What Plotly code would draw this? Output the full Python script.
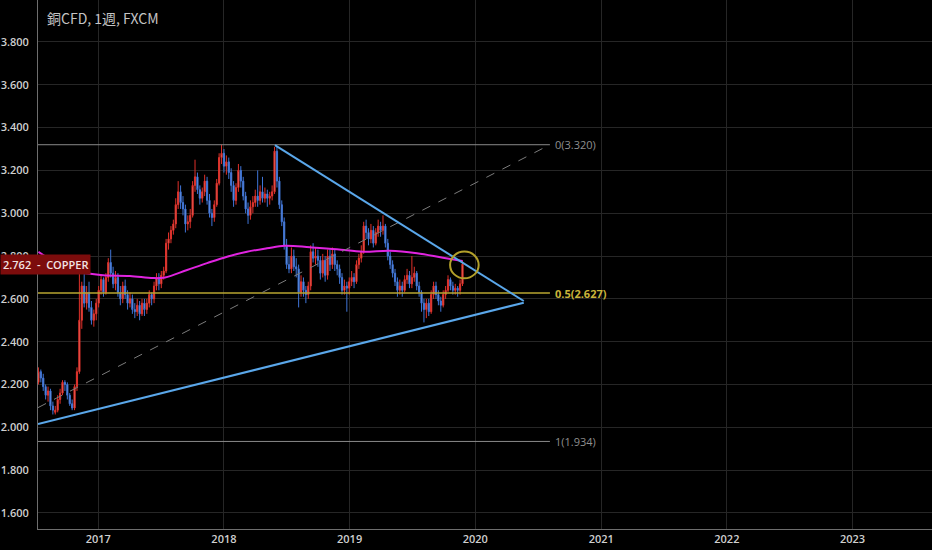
import pandas as pd
import plotly.graph_objects as go

# weekly candles, copper CFD (FXCM)
start_week = "2016-07-11"
opens = [2.21, 2.26, 2.23, 2.19, 2.15, 2.17, 2.10, 2.07, 2.08, 2.13, 2.16, 2.21, 2.20, 2.15, 2.11, 2.09, 2.19, 2.26, 2.50, 2.66,
         2.58, 2.63, 2.56, 2.50, 2.53, 2.58, 2.64, 2.69, 2.63, 2.70, 2.77, 2.72, 2.67, 2.70, 2.63, 2.60, 2.66, 2.62, 2.58, 2.60,
         2.55, 2.54, 2.57, 2.53, 2.58, 2.55, 2.58, 2.62, 2.60, 2.66, 2.70, 2.67, 2.71, 2.73, 2.86, 2.88, 2.92, 2.95, 3.04, 3.10,
         3.05, 3.02, 2.95, 2.96, 2.99, 3.13, 3.17, 3.11, 3.07, 3.10, 3.15, 3.06, 3.00, 2.98, 3.04, 3.14, 3.26, 3.28, 3.22, 3.24,
         3.19, 3.13, 3.06, 3.12, 3.20, 3.15, 3.08, 3.02, 2.99, 3.03, 3.05, 3.08, 3.06, 3.10, 3.07, 3.09, 3.07, 3.08, 3.10, 3.29,
         3.15, 3.04, 2.96, 2.85, 2.76, 2.74, 2.80, 2.75, 2.74, 2.63, 2.68, 2.64, 2.62, 2.66, 2.82, 2.79, 2.80, 2.78, 2.72, 2.78,
         2.71, 2.80, 2.76, 2.81, 2.76, 2.74, 2.70, 2.64, 2.66, 2.65, 2.68, 2.70, 2.68, 2.76, 2.79, 2.82, 2.94, 2.91, 2.88, 2.92,
         2.86, 2.91, 2.94, 2.92, 2.94, 2.86, 2.80, 2.76, 2.72, 2.68, 2.64, 2.66, 2.64, 2.69, 2.71, 2.67, 2.70, 2.72, 2.66, 2.63,
         2.58, 2.55, 2.58, 2.54, 2.62, 2.66, 2.62, 2.59, 2.57, 2.62, 2.64, 2.69, 2.66, 2.64, 2.65, 2.64, 2.67]
highs = [2.28, 2.27, 2.25, 2.20, 2.19, 2.18, 2.12, 2.10, 2.15, 2.18, 2.22, 2.22, 2.21, 2.16, 2.13, 2.20, 2.28, 2.76, 2.68, 2.72,
         2.66, 2.68, 2.59, 2.55, 2.60, 2.66, 2.71, 2.70, 2.72, 2.79, 2.83, 2.75, 2.73, 2.72, 2.66, 2.68, 2.69, 2.64, 2.63, 2.62,
         2.58, 2.60, 2.59, 2.60, 2.60, 2.60, 2.64, 2.63, 2.68, 2.72, 2.72, 2.73, 2.75, 2.88, 2.91, 2.94, 2.97, 3.07, 3.15, 3.13,
         3.08, 3.04, 2.99, 3.02, 3.15, 3.25, 3.19, 3.13, 3.12, 3.18, 3.17, 3.09, 3.02, 3.06, 3.16, 3.28, 3.32, 3.30, 3.27, 3.26,
         3.21, 3.15, 3.14, 3.23, 3.22, 3.17, 3.10, 3.05, 3.06, 3.08, 3.11, 3.20, 3.13, 3.17, 3.12, 3.11, 3.10, 3.13, 3.31, 3.31,
         3.17, 3.06, 2.98, 2.88, 2.80, 2.84, 2.83, 2.79, 2.76, 2.71, 2.70, 2.66, 2.68, 2.85, 2.86, 2.84, 2.83, 2.80, 2.81, 2.80,
         2.83, 2.83, 2.84, 2.83, 2.78, 2.76, 2.72, 2.69, 2.68, 2.70, 2.73, 2.72, 2.78, 2.81, 2.85, 2.96, 2.97, 2.93, 2.95, 2.94,
         2.93, 2.97, 2.96, 2.99, 2.95, 2.88, 2.82, 2.78, 2.74, 2.70, 2.69, 2.68, 2.71, 2.74, 2.73, 2.80, 2.75, 2.73, 2.68, 2.64,
         2.60, 2.60, 2.60, 2.64, 2.68, 2.68, 2.64, 2.61, 2.64, 2.66, 2.71, 2.70, 2.68, 2.67, 2.66, 2.69, 2.78]
lows = [2.20, 2.21, 2.17, 2.13, 2.12, 2.08, 2.06, 2.06, 2.07, 2.11, 2.15, 2.17, 2.13, 2.10, 2.08, 2.08, 2.17, 2.25, 2.46, 2.56,
        2.55, 2.54, 2.48, 2.47, 2.50, 2.56, 2.62, 2.61, 2.62, 2.68, 2.70, 2.65, 2.64, 2.61, 2.57, 2.58, 2.60, 2.55, 2.56, 2.53,
        2.51, 2.52, 2.50, 2.52, 2.52, 2.53, 2.56, 2.57, 2.58, 2.64, 2.64, 2.65, 2.69, 2.72, 2.83, 2.86, 2.90, 2.93, 3.02, 3.02,
        2.99, 2.91, 2.92, 2.93, 2.98, 3.10, 3.09, 3.04, 3.05, 3.08, 3.04, 2.98, 2.94, 2.96, 3.03, 3.13, 3.23, 3.19, 3.18, 3.16,
        3.10, 3.03, 3.04, 3.10, 3.12, 3.06, 3.00, 2.95, 2.97, 3.00, 3.03, 3.03, 3.04, 3.05, 3.05, 3.03, 3.04, 3.06, 3.09, 3.12,
        3.02, 2.94, 2.83, 2.74, 2.72, 2.72, 2.73, 2.70, 2.56, 2.61, 2.61, 2.58, 2.60, 2.64, 2.77, 2.76, 2.75, 2.69, 2.70, 2.68,
        2.69, 2.73, 2.74, 2.73, 2.71, 2.67, 2.62, 2.62, 2.54, 2.62, 2.66, 2.65, 2.67, 2.74, 2.77, 2.81, 2.88, 2.85, 2.86, 2.84,
        2.85, 2.89, 2.89, 2.90, 2.84, 2.78, 2.74, 2.70, 2.66, 2.61, 2.62, 2.61, 2.63, 2.67, 2.65, 2.65, 2.68, 2.64, 2.61, 2.54,
        2.49, 2.51, 2.52, 2.53, 2.60, 2.60, 2.57, 2.54, 2.56, 2.60, 2.63, 2.64, 2.62, 2.62, 2.61, 2.62, 2.66]
closes = [2.26, 2.23, 2.19, 2.15, 2.17, 2.10, 2.08, 2.08, 2.13, 2.16, 2.21, 2.20, 2.15, 2.11, 2.09, 2.19, 2.26, 2.50, 2.66, 2.58,
          2.63, 2.56, 2.50, 2.53, 2.58, 2.64, 2.69, 2.63, 2.70, 2.77, 2.72, 2.67, 2.70, 2.63, 2.60, 2.66, 2.62, 2.58, 2.60, 2.55,
          2.54, 2.57, 2.53, 2.58, 2.55, 2.58, 2.62, 2.60, 2.66, 2.70, 2.67, 2.71, 2.73, 2.86, 2.88, 2.92, 2.95, 3.04, 3.10, 3.05,
          3.02, 2.95, 2.96, 2.99, 3.13, 3.17, 3.11, 3.07, 3.10, 3.15, 3.06, 3.00, 2.98, 3.04, 3.14, 3.26, 3.28, 3.22, 3.24, 3.19,
          3.13, 3.06, 3.12, 3.20, 3.15, 3.08, 3.02, 2.99, 3.03, 3.05, 3.08, 3.06, 3.10, 3.07, 3.09, 3.07, 3.08, 3.10, 3.29, 3.15,
          3.04, 2.96, 2.85, 2.76, 2.74, 2.80, 2.75, 2.74, 2.63, 2.68, 2.64, 2.62, 2.66, 2.82, 2.79, 2.80, 2.78, 2.72, 2.78, 2.71,
          2.80, 2.76, 2.81, 2.76, 2.74, 2.70, 2.64, 2.66, 2.65, 2.68, 2.70, 2.68, 2.76, 2.79, 2.82, 2.94, 2.91, 2.88, 2.92, 2.86,
          2.91, 2.94, 2.92, 2.94, 2.86, 2.80, 2.76, 2.72, 2.68, 2.64, 2.66, 2.64, 2.69, 2.71, 2.67, 2.70, 2.72, 2.66, 2.63, 2.58,
          2.55, 2.58, 2.54, 2.62, 2.66, 2.62, 2.59, 2.57, 2.62, 2.64, 2.69, 2.66, 2.64, 2.65, 2.64, 2.67, 2.762]

# moving average (magenta), sampled from the chart
ma_dates = ["2016-07-11", "2016-08-08", "2016-09-12", "2016-10-19", "2016-11-26", "2017-01-15", "2017-04-03",
            "2017-06-09", "2017-07-14", "2017-09-16", "2017-11-13", "2018-01-10", "2018-03-09", "2018-05-06",
            "2018-06-27", "2018-09-08", "2018-11-25", "2019-02-09", "2019-04-28", "2019-07-16", "2019-09-29",
            "2019-11-25"]
ma_values = [2.82, 2.79, 2.755, 2.726, 2.72, 2.71, 2.707, 2.697, 2.70, 2.735, 2.767, 2.797, 2.82, 2.836,
             2.848, 2.841, 2.832, 2.82, 2.825, 2.813, 2.792, 2.777]

# drawings
fib_levels = [0, 0.5, 1]
fib_prices = [3.320, 2.627, 1.934]
last_price = 2.762
symbol = "COPPER"
title = "銅CFD, 1週, FXCM"

x_left = "2016-07-09 19:00"
x_right = "2023-08-20"
fib_end = "2020-08-05"
apex = "2020-05-21"

dates = pd.date_range(start_week, periods=len(closes), freq="7D")

fig = go.Figure()

fig.add_trace(go.Candlestick(
    x=dates, open=opens, high=highs, low=lows, close=closes,
    increasing=dict(line=dict(color="#e0302a", width=1), fillcolor="#f08676"),
    decreasing=dict(line=dict(color="#3f74d6", width=1), fillcolor="#7ea9ee"),
    whiskerwidth=0, showlegend=False, hoverinfo="skip",
))

fig.add_trace(go.Scatter(
    x=ma_dates, y=ma_values, mode="lines", line=dict(color="#e024e0", width=2, shape="spline"),
    showlegend=False, hoverinfo="skip",
))

# fib retracement lines + labels
fib_colors = ["#8a8a8a", "#b8a630", "#8a8a8a"]
for lvl, p, c in zip(fib_levels, fib_prices, fib_colors):
    fig.add_shape(type="line", x0=x_left, x1=fib_end, y0=p, y1=p,
                  line=dict(color=c, width=1.5 if lvl == 0.5 else 1))
    fig.add_annotation(x=fib_end, y=p, text=f"{lvl:g}({p:.3f})", showarrow=False,
                       xanchor="left", xshift=3,
                       font=dict(family="Open Sans", size=11, color="#c9b43a" if lvl == 0.5 else "#8f8f8f",
                                 weight=700 if lvl == 0.5 else 400))

# fib trend line (dashed)
fig.add_shape(type="line", x0=x_left, y0=2.092, x1=fib_end, y1=fib_prices[0],
              line=dict(color="#7c7c7c", width=1, dash="dash"))

# triangle
fig.add_shape(type="line", x0="2018-05-29", y0=3.318, x1=apex, y1=2.590,
              line=dict(color="#5aa7ea", width=2))
fig.add_shape(type="line", x0=x_left, y0=2.015, x1=apex, y1=2.582,
              line=dict(color="#5aa7ea", width=2))

# circle at the breakout
fig.add_shape(type="circle", x0="2019-10-20", x1="2020-01-11", y0=2.696, y1=2.821,
              line=dict(color="#b3a02a", width=2))

# symbol / price label
fig.add_annotation(xref="paper", x=0, xshift=-38, xanchor="left", y=last_price, yanchor="middle",
                   text=f"{last_price:.3f}  -  {symbol}", showarrow=False, bgcolor="#7c0c0c",
                   borderpad=2, font=dict(family="Open Sans", size=11, color="#f2e4e4", weight=600))

fig.add_annotation(xref="paper", yref="paper", x=0.008, y=0.988, xanchor="left", yanchor="top",
                   text=title, showarrow=False,
                   font=dict(family="Noto Sans CJK JP", size=14, color="#c4c4c4"))

fig.update_layout(
    width=932, height=550,
    margin=dict(l=38, r=0, t=0, b=21),
    paper_bgcolor="#000000", plot_bgcolor="#000000",
    showlegend=False,
    xaxis=dict(
        type="date", range=[x_left, x_right], rangeslider=dict(visible=False),
        tickvals=["2017-01-01", "2018-01-01", "2019-01-01", "2020-01-01", "2021-01-01", "2022-01-01", "2023-01-01"],
        ticktext=["2017", "2018", "2019", "2020", "2021", "2022", "2023"],
        showgrid=True, gridcolor="#262626", gridwidth=1,
        showline=True, linecolor="#6e6e6e", linewidth=1, ticks="", zeroline=False,
        tickfont=dict(family="Open Sans", size=11, color="#cfcfcf", weight=600),
    ),
    yaxis=dict(
        range=[1.525, 3.996], dtick=0.2, tick0=0, tickformat=".3f",
        showgrid=True, gridcolor="#262626", gridwidth=1,
        showline=True, linecolor="#6e6e6e", linewidth=1, ticks="", zeroline=False,
        ticklabelstandoff=6,
        tickfont=dict(family="Open Sans", size=11, color="#cfcfcf", weight=600),
    ),
)

# the page has a default body margin; drop it so the figure sits at 0,0
fig.write_html("out.html", config={"displayModeBar": False},
               post_script="document.body.style.margin='0';")
